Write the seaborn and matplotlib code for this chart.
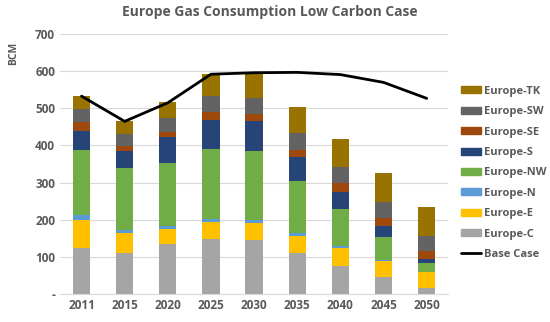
import matplotlib
matplotlib.use("Agg")
import matplotlib.pyplot as plt
import matplotlib.patches as mpatches
import matplotlib.lines as mlines
import seaborn as sns
import numpy as np
import pandas as pd

years = ["2011", "2015", "2020", "2025", "2030", "2035", "2040", "2045", "2050"]

europe_c = [124, 111, 134, 147, 145, 110, 76, 45, 16]
europe_e = [75, 52, 41, 48, 47, 46, 48, 45, 43]
europe_n = [14, 9, 8, 6, 7, 7, 5, 2, 1]
europe_nw = [175, 168, 171, 189, 186, 141, 99, 61, 23]
europe_s = [52, 44, 68, 79, 80, 64, 48, 30, 10]
europe_se = [22, 15, 15, 21, 21, 20, 22, 23, 24]
europe_sw = [36, 31, 36, 43, 43, 47, 45, 43, 39]
europe_tk = [36, 35, 45, 59, 65, 68, 74, 78, 79]
base_case = [533, 465, 515, 592, 596, 597, 591, 570, 527]

regions = ["Europe-C", "Europe-E", "Europe-N", "Europe-NW",
           "Europe-S", "Europe-SE", "Europe-SW", "Europe-TK"]
colors = ["#A5A5A5", "#FFC000", "#5B9BD5", "#70AD47",
          "#264478", "#9E480E", "#636363", "#997300"]

df = pd.DataFrame({"year": years, "Europe-C": europe_c, "Europe-E": europe_e,
                   "Europe-N": europe_n, "Europe-NW": europe_nw, "Europe-S": europe_s,
                   "Europe-SE": europe_se, "Europe-SW": europe_sw, "Europe-TK": europe_tk})
cum = df[regions].cumsum(axis=1)

sns.set_style("white")
plt.rcParams["font.family"] = ["Open Sans", "DejaVu Sans"]
txt = "#595959"

fig = plt.figure(figsize=(5.5, 3.22), dpi=100)
ax = fig.add_axes([0.109, 0.087, 0.706, 0.807])

# draw cumulative totals tallest first so lower layers cover them
for reg, col in reversed(list(zip(regions, colors))):
    sns.barplot(x=df["year"], y=cum[reg], color=col, width=0.4,
                saturation=1, linewidth=0, edgecolor=col, ax=ax, zorder=2)

sns.pointplot(x=df["year"], y=base_case, color="black", markers="",
              linewidth=2, ax=ax, zorder=3)

ax.set_ylim(0, 700)
ax.set_yticks(range(0, 701, 100))
ax.set_yticklabels(["-"] + [str(v) for v in range(100, 701, 100)])
ax.yaxis.grid(True, color="#D9D9D9", linewidth=0.8, zorder=0)
ax.set_axisbelow(True)
for s in ["top", "right", "left"]:
    ax.spines[s].set_visible(False)
ax.spines["bottom"].set_color("#D9D9D9")
ax.tick_params(length=0, labelsize=8.5, labelcolor=txt)
for lab in ax.get_xticklabels() + ax.get_yticklabels():
    lab.set_fontweight("bold")
ax.set_xlabel("")
ax.set_ylabel("")
fig.text(0.025, 0.835, "BCM", rotation=90, fontsize=7.5, color=txt,
         fontweight="bold", ha="center", va="center")

fig.suptitle("Europe Gas Consumption Low Carbon Case", x=0.49, y=0.985,
             fontsize=10, fontweight="bold", color=txt)

handles = [mpatches.Patch(color=c, label=r) for r, c in zip(regions, colors)][::-1]
handles.append(mlines.Line2D([], [], color="black", linewidth=2, label="Base Case"))
leg = fig.legend(handles=handles, loc="center left", bbox_to_anchor=(0.82, 0.463),
                 frameon=False, fontsize=8, handlelength=1.8, handleheight=0.6,
                 labelspacing=0.85, handletextpad=0.25)
for t in leg.get_texts():
    t.set_color(txt)
    t.set_fontweight("bold")

fig.savefig("out.png", dpi=100)
